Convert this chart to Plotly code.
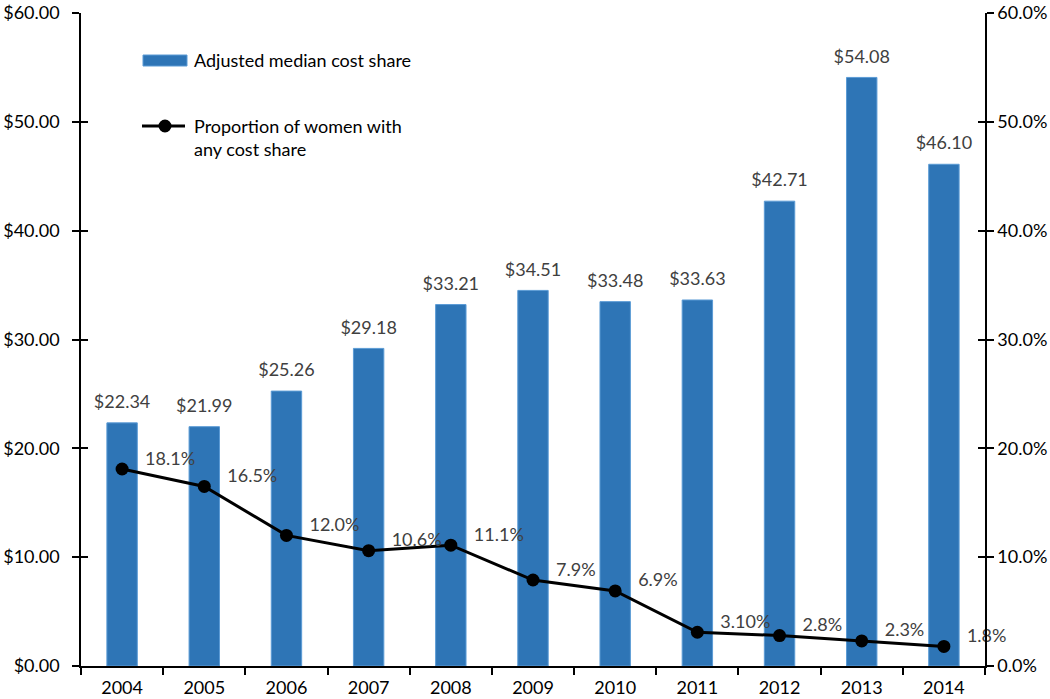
import plotly.graph_objects as go

years = ["2004", "2005", "2006", "2007", "2008", "2009", "2010", "2011", "2012", "2013", "2014"]
median_cost = [22.34, 21.99, 25.26, 29.18, 33.21, 34.51, 33.48, 33.63, 42.71, 54.08, 46.10]
pct_any_cost = [18.1, 16.5, 12.0, 10.6, 11.1, 7.9, 6.9, 3.1, 2.8, 2.3, 1.8]
pct_labels = ["18.1%", "16.5%", "12.0%", "10.6%", "11.1%", "7.9%", "6.9%", "3.10%", "2.8%", "2.3%", "1.8%"]
cost_labels = [f"${v:.2f}" for v in median_cost]
left_ticks = [0, 10, 20, 30, 40, 50, 60]
right_ticks = [0, 10, 20, 30, 40, 50, 60]
left_ticktext = [f"${v:.2f}" for v in left_ticks]
right_ticktext = [f"{v:.1f}%" for v in right_ticks]
bar_name = "Adjusted median cost share"
line_name = "Proportion of women with<br>any cost share"

W, H = 1050, 699
ML, MR, MT, MB = 81, 65, 13, 33
PW, PH = W - ML - MR, H - MT - MB
N = len(years)
idx = list(range(N))
LABEL_SHIFT = 23 / (PW / N)  # horizontal offset of percent labels, in category units

def px(x):
    return (x - ML) / PW

def py(y):
    return (H - MB - y) / PH

FONT = "Lato, 'Open Sans', sans-serif"
BLUE = "#2E75B6"
GREY = "#404040"

fig = go.Figure()
fig.add_trace(go.Bar(
    x=years, y=median_cost, name=bar_name, yaxis="y",
    marker=dict(color=BLUE, line=dict(color="#5B9BD5", width=1)),
    width=0.37, showlegend=False,
))
fig.add_trace(go.Scatter(
    x=years, y=pct_any_cost, name=line_name, yaxis="y2",
    mode="lines+markers",
    line=dict(color="black", width=3),
    marker=dict(color="black", size=13),
    showlegend=False,
))
# bar value labels
fig.add_trace(go.Scatter(
    x=idx, y=median_cost, xaxis="x3", yaxis="y3",
    mode="markers+text", text=cost_labels, textposition="top center",
    marker=dict(size=15, opacity=0), textfont=dict(family=FONT, size=18, color=GREY),
    showlegend=False, hoverinfo="skip", cliponaxis=False,
))
# percent labels
fig.add_trace(go.Scatter(
    x=idx, y=pct_any_cost, xaxis="x2", yaxis="y4",
    mode="text", text=pct_labels, textposition="top right",
    textfont=dict(family=FONT, size=18, color=GREY),
    showlegend=False, hoverinfo="skip", cliponaxis=False,
))

ann = [
    dict(x=px(192), y=py(60), xref="paper", yref="paper", text=bar_name,
         showarrow=False, xanchor="left", yanchor="middle",
         font=dict(family=FONT, size=18, color="black")),
    dict(x=px(192), y=py(138), xref="paper", yref="paper", text=line_name,
         showarrow=False, xanchor="left", yanchor="middle", align="left",
         font=dict(family=FONT, size=18, color="black")),
]
shapes = [
    dict(type="rect", xref="paper", yref="paper", x0=px(143), x1=px(187), y0=py(66), y1=py(55),
         fillcolor=BLUE, line=dict(color="#5B9BD5", width=1)),
    dict(type="line", xref="paper", yref="paper", x0=px(142), x1=px(185), y0=py(126), y1=py(126),
         line=dict(color="black", width=3)),
    dict(type="circle", xref="paper", yref="paper", xsizemode="pixel", ysizemode="pixel",
         xanchor=px(165), yanchor=py(126), x0=-6.5, x1=6.5, y0=-6.5, y1=6.5,
         fillcolor="black", line=dict(color="black", width=0)),
]

axis_common = dict(showgrid=False, zeroline=False, linecolor="black", linewidth=1.5,
                   tickcolor="black", tickwidth=1.5, automargin=False)
tf = dict(family=FONT, size=18, color="black")

fig.update_layout(
    width=W, height=H, autosize=False,
    margin=dict(l=ML, r=MR, t=MT, b=MB, autoexpand=False),
    plot_bgcolor="white", paper_bgcolor="white",
    font=dict(family=FONT, size=18, color="black"),
    annotations=ann, shapes=shapes,
    xaxis=dict(type="category", range=[-0.5, N - 0.5], ticks="", showline=True,
               ticklabelstandoff=5, tickfont=tf, **axis_common),
    xaxis2=dict(range=[-0.5 - LABEL_SHIFT, N - 0.5 - LABEL_SHIFT], overlaying="x",
                visible=False, anchor="y", automargin=False),
    xaxis3=dict(range=[-0.5, N - 0.5], overlaying="x", anchor="y", side="bottom",
                tickvals=[i - 0.5 for i in range(N + 1)], ticks="outside", ticklen=8,
                showticklabels=False, showline=False, **axis_common),
    yaxis=dict(range=[0, 60], tickvals=left_ticks, ticktext=left_ticktext,
               ticks="outside", ticklen=7, showline=True, ticklabeloverflow="allow",
               ticklabelstandoff=9, tickfont=tf, **axis_common),
    yaxis2=dict(range=[0, 60], tickvals=right_ticks, ticktext=right_ticktext,
                overlaying="y", side="right", anchor="x",
                ticks="outside", ticklen=7, showline=True, ticklabeloverflow="allow",
                tickfont=tf, **axis_common),
    yaxis3=dict(range=[0, 60], tickvals=left_ticks, overlaying="y", side="left", anchor="x3",
                ticks="inside", ticklen=7, showticklabels=False, showline=False, **axis_common),
    yaxis4=dict(range=[0, 60], tickvals=right_ticks, overlaying="y", side="right", anchor="x2",
                ticks="inside", ticklen=7, showticklabels=False, showline=False, **axis_common),
)

fig.write_html("out.html", config={"displayModeBar": False},
               post_script="document.body.style.margin='0px';")
